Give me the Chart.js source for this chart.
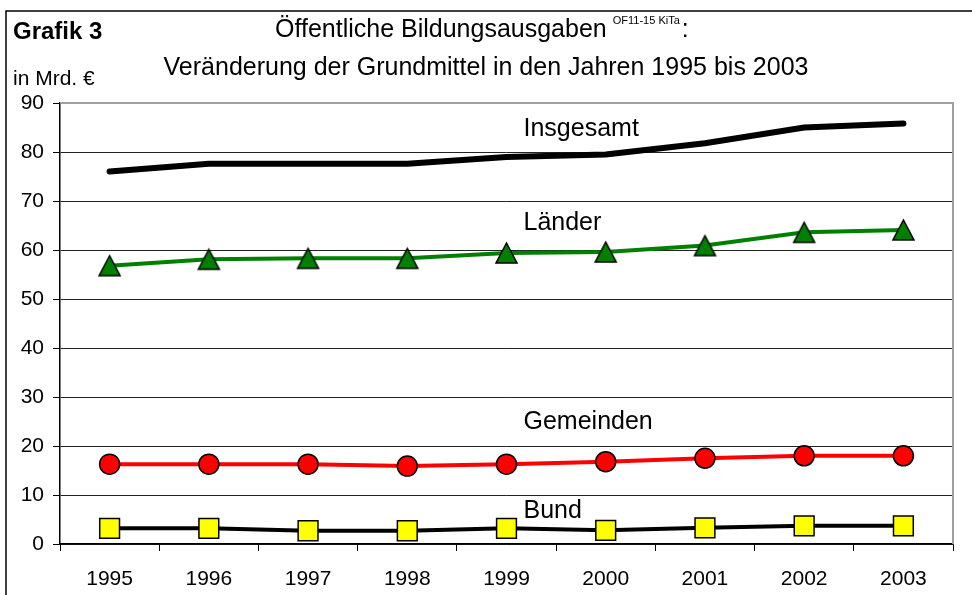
<!DOCTYPE html>
<html>
<head>
<meta charset="utf-8">
<script src="https://cdn.jsdelivr.net/npm/chart.js@4.4.1/dist/chart.umd.min.js"></script>
<style>
  body { margin: 0; background: #fff; }
  canvas { display: block; }
</style>
</head>
<body>
<canvas id="chart" width="972" height="595"></canvas>
<script>
// Grundmittel in Mrd. Euro
const years = ['1995', '1996', '1997', '1998', '1999', '2000', '2001', '2002', '2003'];
const insgesamt = [76.0, 77.6, 77.6, 77.6, 79.0, 79.5, 81.8, 85.0, 85.8];
const laender = [56.8, 58.1, 58.3, 58.3, 59.4, 59.6, 60.9, 63.6, 64.1];
const gemeinden = [16.3, 16.3, 16.3, 15.9, 16.3, 16.8, 17.5, 18.0, 18.0];
const bund = [3.2, 3.2, 2.7, 2.7, 3.2, 2.8, 3.3, 3.7, 3.7];
const yMin = 0;
const yMax = 90;
const yStep = 10;

const FONT = '"Liberation Sans", Arial, sans-serif';

// triangle marker centred on its box, like the original
function makeTriangle(w, h) {
    const c = document.createElement('canvas');
    c.width = w + 4;
    c.height = h + 4;
    const g = c.getContext('2d');
    g.beginPath();
    g.moveTo(c.width / 2, 2);
    g.lineTo(c.width - 2, h + 2);
    g.lineTo(2, h + 2);
    g.closePath();
    g.fillStyle = '#008000';
    g.fill();
    g.lineWidth = 1.5;
    g.strokeStyle = '#000';
    g.lineJoin = 'miter';
    g.stroke();
    return c;
}

// header texts, frame and the series names next to the lines
const decoPlugin = {
    id: 'deco',
    afterDraw(chart) {
        const ctx = chart.ctx;
        const area = chart.chartArea;
        const x = chart.scales.x;
        const y = chart.scales.y;
        ctx.save();

        // outer frame
        ctx.strokeStyle = '#000';
        ctx.lineWidth = 1.5;
        ctx.strokeRect(6, 11, 990, 600);

        // grey top/right border of the plot area
        ctx.strokeStyle = '#a0a0a0';
        ctx.lineWidth = 2;
        ctx.beginPath();
        ctx.moveTo(area.left, area.top);
        ctx.lineTo(area.right, area.top);
        ctx.lineTo(area.right, area.bottom);
        ctx.stroke();

        ctx.fillStyle = '#000';
        ctx.textBaseline = 'alphabetic';

        ctx.textAlign = 'left';
        ctx.font = 'bold 24px ' + FONT;
        ctx.fillText('Grafik 3', 13, 39);

        ctx.font = '21px ' + FONT;
        ctx.fillText('in Mrd. €', 13, 85);

        ctx.font = '25px ' + FONT;
        const line1 = 'Öffentliche Bildungsausgaben';
        ctx.fillText(line1, 275, 37);
        let px = 275 + ctx.measureText(line1).width + 6;
        ctx.font = '11px ' + FONT;
        ctx.fillText('OF11-15 KiTa', px, 24);
        px += ctx.measureText('OF11-15 KiTa').width + 2;
        ctx.font = '25px ' + FONT;
        ctx.fillText(':', px, 37);

        ctx.textAlign = 'center';
        ctx.fillText('Veränderung der Grundmittel in den Jahren 1995 bis 2003', 486, 75);

        // series names
        ctx.textAlign = 'left';
        ctx.textBaseline = 'middle';
        ctx.font = '25px ' + FONT;
        const lx = x.getPixelForValue(4) + 17;
        ctx.fillText('Insgesamt', lx, y.getPixelForValue(84.7));
        ctx.fillText('Länder', lx, y.getPixelForValue(65.5));
        ctx.fillText('Gemeinden', lx, y.getPixelForValue(24.9));
        ctx.fillText('Bund', lx, y.getPixelForValue(6.7));

        ctx.restore();
    }
};

new Chart(document.getElementById('chart').getContext('2d'), {
    type: 'line',
    data: {
        labels: years,
        datasets: [
            {
                label: 'Insgesamt',
                data: insgesamt,
                borderColor: '#000',
                borderWidth: 6,
                borderCapStyle: 'round',
                pointRadius: 0
            },
            {
                label: 'Länder',
                data: laender,
                borderColor: '#008000',
                borderWidth: 4,
                pointStyle: makeTriangle(21, 20),
                pointRadius: 12
            },
            {
                label: 'Gemeinden',
                data: gemeinden,
                borderColor: '#ff0000',
                borderWidth: 4,
                pointStyle: 'circle',
                pointRadius: 10,
                pointBackgroundColor: '#ff0000',
                pointBorderColor: '#000',
                pointBorderWidth: 1.5
            },
            {
                label: 'Bund',
                data: bund,
                borderColor: '#000',
                borderWidth: 4,
                pointStyle: 'rect',
                pointRadius: 14,
                pointBackgroundColor: '#ffff00',
                pointBorderColor: '#000',
                pointBorderWidth: 1.5
            }
        ]
    },
    options: {
        responsive: false,
        animation: false,
        layout: {
            padding: { top: 103, right: 19, left: 0, bottom: 0 }
        },
        plugins: {
            legend: { display: false },
            tooltip: { enabled: false },
            title: { display: false }
        },
        scales: {
            x: {
                offset: true,
                afterFit(scale) { scale.height = 51; },
                border: { color: '#000', width: 1.5 },
                grid: {
                    offset: true,
                    drawOnChartArea: false,
                    drawTicks: true,
                    tickLength: 7,
                    color: '#000',
                    lineWidth: 1
                },
                ticks: {
                    color: '#000',
                    padding: 16,
                    maxRotation: 0,
                    font: { family: FONT, size: 21 }
                }
            },
            y: {
                min: yMin,
                max: yMax,
                afterFit(scale) { scale.width = 60; },
                border: { color: '#000', width: 1.5 },
                grid: {
                    color: (c) => c.tick && c.tick.value === yMax ? '#a0a0a0' : '#222',
                    tickColor: '#000',
                    lineWidth: 1,
                    tickLength: 7
                },
                ticks: {
                    stepSize: yStep,
                    color: '#000',
                    padding: 9,
                    font: { family: FONT, size: 21 }
                }
            }
        }
    },
    plugins: [decoPlugin]
});
</script>
</body>
</html>
